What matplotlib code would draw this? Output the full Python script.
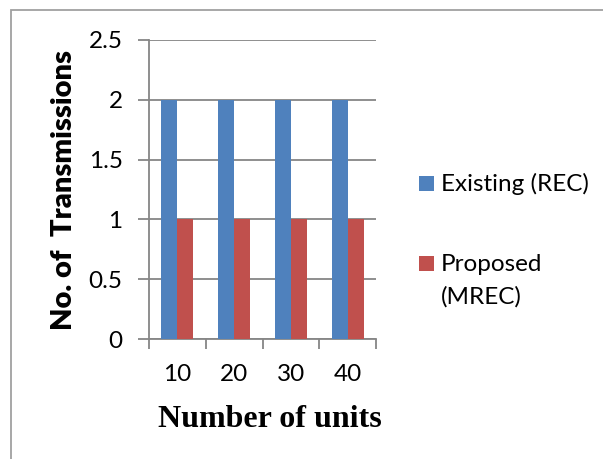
import matplotlib
matplotlib.use("Agg")
import matplotlib.pyplot as plt
from matplotlib.patches import Rectangle
import numpy as np

# Data
categories = ["10", "20", "30", "40"]
series_names = ["Existing (REC)", "Proposed\n(MREC)"]
existing = [2, 2, 2, 2]
proposed = [1, 1, 1, 1]
y_ticks = [0, 0.5, 1, 1.5, 2, 2.5]
y_tick_labels = ["0", "0.5", "1", "1.5", "2", "2.5"]
colors = ["#4F81BD", "#C0504D"]

W, H = 603, 459
DPI = 100
fig = plt.figure(figsize=(W / DPI, H / DPI), dpi=DPI)
fig.patch.set_facecolor("white")

def fx(px):
    return px / W

def fy(py):
    return 1 - py / H

# Outer chart frame (runs off the right and bottom edges)
fig.add_artist(Rectangle((fx(10.5), fy(470)), fx(620), (470 - 10.5) / H,
                         transform=fig.transFigure, fill=False,
                         edgecolor="#A0A0A0", linewidth=1.3))

# Plot area
left, right, top, bottom = 149, 376, 40, 339
ax = fig.add_axes([fx(left), fy(bottom), fx(right - left), (bottom - top) / H])

grid_col = "#868686"
sans = ["Lato", "DejaVu Sans"]
tick_font = dict(family=sans, size=17.5)

x = np.arange(len(categories))
bw = 0.282
ax.bar(x - bw / 2, existing, width=bw, color=colors[0], zorder=3)
ax.bar(x + bw / 2, proposed, width=bw, color=colors[1], zorder=3)

ax.set_xlim(-0.5, len(categories) - 0.5)
ax.set_ylim(0, 2.5)
ax.set_yticks(y_ticks)
ax.set_yticklabels(y_tick_labels, fontdict=tick_font)
ax.yaxis.grid(True, color=grid_col, linewidth=1.3, zorder=0)
ax.set_axisbelow(True)

# Category labels centered, tick marks at category boundaries
ax.set_xticks(x)
ax.set_xticklabels(categories, fontdict=tick_font)
ax.tick_params(axis="x", length=0, pad=18)
ax.set_xticks(np.arange(len(categories) + 1) - 0.5, minor=True)
ax.tick_params(axis="x", which="minor", length=7, width=1.3, color=grid_col)
ax.tick_params(axis="y", length=8, width=1.3, color=grid_col, pad=11)

for s in ["top", "right"]:
    ax.spines[s].set_visible(False)
ax.spines["left"].set_color(grid_col)
ax.spines["left"].set_linewidth(1.3)
ax.spines["bottom"].set_color(grid_col)
ax.spines["bottom"].set_linewidth(1.3)

# Axis titles
fig.text(fx(63.5), fy(190), "No. of  Transmissions", rotation=90,
         ha="center", va="center", fontsize=21, fontweight="heavy",
         family=sans)
fig.text(fx(269.5), fy(427), "Number of units", ha="center", va="baseline",
         fontsize=23, fontweight="bold", family=["Liberation Serif"])

# Legend
legend_rows = [190.7, 270.7]
for name, col, base in zip(series_names, colors, legend_rows):
    fig.add_artist(Rectangle((fx(419), fy(base)), fx(15), 15 / H,
                             transform=fig.transFigure, facecolor=col,
                             edgecolor="none"))
    for i, line in enumerate(name.split("\n")):
        fig.text(fx(441), fy(base + 33 * i), line, ha="left", va="baseline",
                 fontsize=17.5, family=sans)

fig.savefig("out.png", dpi=DPI, facecolor="white")
